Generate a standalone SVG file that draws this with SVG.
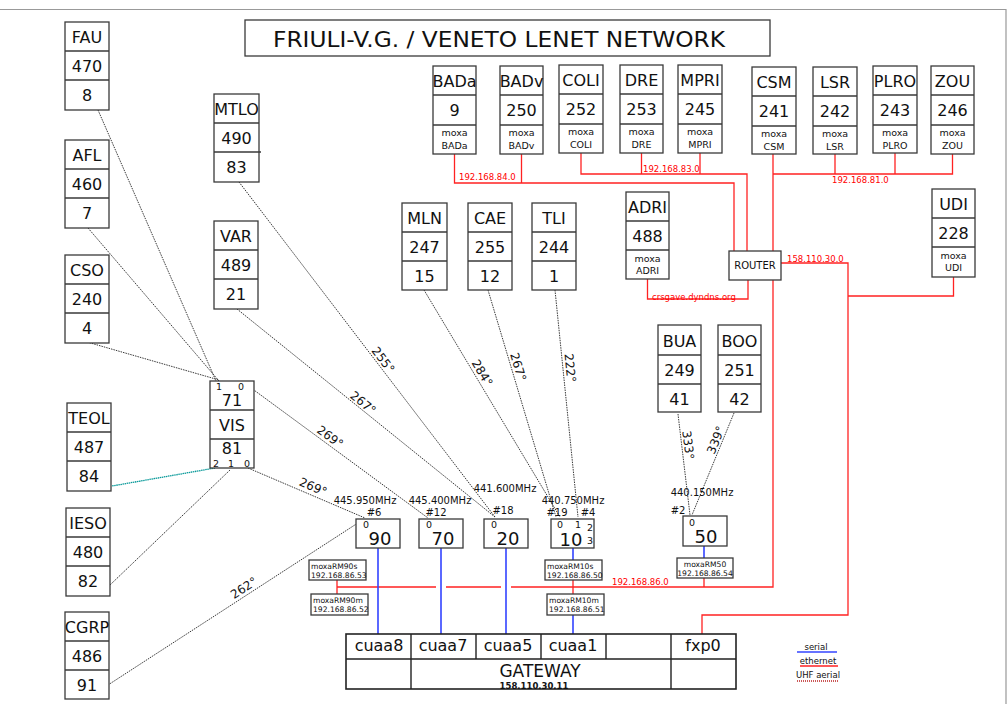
<svg xmlns="http://www.w3.org/2000/svg" width="1008" height="704" viewBox="0 0 1008 704">
<style>
.bx{fill:#fff;stroke:#3a3a3a;stroke-width:1.3}
.dv{fill:none;stroke:#3a3a3a;stroke-width:1.3}
.t{font-family:"DejaVu Sans",sans-serif;font-size:16px;text-anchor:middle;fill:#111}
.n{font-family:"DejaVu Sans",sans-serif;font-size:18px;text-anchor:middle;fill:#111}
.p{font-family:"DejaVu Sans",sans-serif;font-size:9.5px;text-anchor:middle;fill:#111}
.m{font-family:"DejaVu Sans",sans-serif;font-size:9.5px;text-anchor:middle;fill:#111}
.s{font-family:"DejaVu Sans",sans-serif;font-size:7.6px;fill:#111}
.ip{font-family:"DejaVu Sans",sans-serif;font-size:8.5px;fill:#f00}
.f{font-family:"DejaVu Sans",sans-serif;font-size:10px;text-anchor:middle;fill:#111}
.ang{font-family:"DejaVu Sans",sans-serif;font-size:12px;text-anchor:middle;fill:#111}
.lg{font-family:"DejaVu Sans",sans-serif;font-size:8.5px;text-anchor:middle;fill:#111}
.eth{fill:none;stroke:#f22;stroke-width:1.3}
.ser{fill:none;stroke:#3344ff;stroke-width:1.6}
.uhf{fill:none;stroke:#222;stroke-width:0.9;stroke-dasharray:1.5 1}
</style>
<rect width="1008" height="704" fill="#fff"/>
<path d="M0,9.5H1006V704" fill="none" stroke="#999" stroke-width="1.2"/>

<g id="title">
<rect class="bx" x="245" y="20" width="525" height="36"/>
<text x="499" y="47" font-family="DejaVu Sans, sans-serif" font-size="22" text-anchor="middle" fill="#111" textLength="452" lengthAdjust="spacingAndGlyphs">FRIULI-V.G. / VENETO LENET NETWORK</text>
</g>

<g id="connectors">
<path class="eth" d="M454.5,154V183H734V251M521.5,154V183"/>
<path class="eth" d="M581,153V174H747V251M641.5,153V174M700,153V174"/>
<path class="eth" d="M773,154V251M773,174H952.5V154M835,154V174M895,153V174"/>
<path class="eth" d="M781,263H848V615H702V634M848,296H953.5V277"/>
<path class="eth" d="M748,280V299H647.5V279"/>
<path class="eth" d="M773,280V587H511M501,587H446M436,587H337V580M337,587V594"/>
<path class="eth" d="M573,580V594M704,578V587"/>
<text class="ip" x="459" y="180">192.168.84.0</text>
<text class="ip" x="643" y="172">192.168.83.0</text>
<text class="ip" x="832" y="183">192.168.81.0</text>
<text class="ip" x="787" y="262">158.110.30.0</text>
<text class="ip" x="652" y="300">crsgave.dyndns.org</text>
<text class="ip" x="612" y="585">192.168.86.0</text>
<path class="ser" d="M378,548V634M441,548V634M506,548V634M573,548V560M573,615V634M704,546V558"/>
<path class="uhf" d="M98,110L216,381M88,228L219,381M87,342L219,380"/>
<path class="uhf" d="M239,182L495,517M237,309L495,517"/>
<path class="uhf" d="M243,382L428,518M248,468L365,518M230,470L110,585M108,685L364,519"/>
<path d="M215,468L112,486" fill="none" stroke="#0a9a9a" stroke-width="1.3" stroke-dasharray="1.5 0.6"/>
<path class="uhf" d="M424,290L560,517M488,290L556,517M555,290L578,517"/>
<path class="uhf" d="M678,414L690,515M734,413L692,515"/>
<g transform="translate(383,360) rotate(53)"><text class="ang" y="4">255°</text></g>
<g transform="translate(363,403) rotate(38.7)"><text class="ang" y="4">267°</text></g>
<g transform="translate(330,437) rotate(36)"><text class="ang" y="4">269°</text></g>
<g transform="translate(313,487) rotate(23)"><text class="ang" y="4">269°</text></g>
<g transform="translate(244,588) rotate(-33)"><text class="ang" y="4">262°</text></g>
<g transform="translate(482,373) rotate(59)"><text class="ang" y="4">284°</text></g>
<g transform="translate(518,367) rotate(73)"><text class="ang" y="4">267°</text></g>
<g transform="translate(570,368) rotate(84)"><text class="ang" y="4">222°</text></g>
<g transform="translate(688,445) rotate(83)"><text class="ang" y="4">333°</text></g>
<g transform="translate(716,440) rotate(-68)"><text class="ang" y="4">339°</text></g>
<text class="f" x="365" y="504">445.950MHz</text>
<text class="f" x="374" y="516">#6</text>
<text class="f" x="440" y="504">445.400MHz</text>
<text class="f" x="436" y="516">#12</text>
<text class="f" x="505" y="492">441.600MHz</text>
<text class="f" x="503" y="514">#18</text>
<text class="f" x="573" y="504">440.750MHz</text>
<text class="f" x="557" y="516">#19</text>
<text class="f" x="588" y="516">#4</text>
<text class="f" x="702" y="496">440.150MHz</text>
<text class="f" x="678" y="514">#2</text>
</g>

<g id="FAU"><rect class="bx" x="65" y="22" width="44" height="88"/><path class="dv" d="M65,51H109M65,80H109"/><text class="t" x="87" y="43">FAU</text><text class="t" x="87" y="72">470</text><text class="t" x="87" y="101">8</text></g>
<g id="AFL"><rect class="bx" x="65" y="140" width="44" height="88"/><path class="dv" d="M65,169H109M65,198H109"/><text class="t" x="87" y="161">AFL</text><text class="t" x="87" y="190">460</text><text class="t" x="87" y="219">7</text></g>
<g id="CSO"><rect class="bx" x="65" y="255" width="44" height="88"/><path class="dv" d="M65,284H109M65,313H109"/><text class="t" x="87" y="276">CSO</text><text class="t" x="87" y="305">240</text><text class="t" x="87" y="334">4</text></g>
<g id="MTLO"><rect class="bx" x="214" y="94" width="45" height="88"/><path class="dv" d="M214,123H259M214,152H261"/><text class="t" x="236.5" y="115">MTLO</text><text class="t" x="236.5" y="144">490</text><text class="t" x="236.5" y="173">83</text></g>
<g id="VAR"><rect class="bx" x="214" y="221" width="44" height="88"/><path class="dv" d="M214,250H258M214,279H258"/><text class="t" x="236" y="242">VAR</text><text class="t" x="236" y="271">489</text><text class="t" x="236" y="300">21</text></g>
<g id="TEOL"><rect class="bx" x="67" y="403" width="44" height="88"/><path class="dv" d="M67,432H111M67,461H111"/><text class="t" x="89" y="424">TEOL</text><text class="t" x="89" y="453">487</text><text class="t" x="89" y="482">84</text></g>
<g id="IESO"><rect class="bx" x="66" y="508" width="44" height="88"/><path class="dv" d="M66,537H110M66,566H110"/><text class="t" x="88" y="529">IESO</text><text class="t" x="88" y="558">480</text><text class="t" x="88" y="587">82</text></g>
<g id="CGRP"><rect class="bx" x="65" y="612" width="44" height="87"/><path class="dv" d="M65,641H109M65,670H109"/><text class="t" x="87" y="633">CGRP</text><text class="t" x="87" y="662">486</text><text class="t" x="87" y="691">91</text></g>
<g id="VIS"><rect class="bx" x="210" y="381" width="44" height="87"/><path class="dv" d="M210,410H254M210,439H254"/><text class="p" x="219" y="390">1</text><text class="p" x="241" y="390">0</text><text class="t" x="232" y="406">71</text><text class="t" x="232" y="431">VIS</text><text class="t" x="232" y="454">81</text><text class="p" x="216" y="467">2</text><text class="p" x="231" y="467">1</text><text class="p" x="247" y="467">0</text></g>

<g id="MLN"><rect class="bx" x="402" y="203" width="45" height="87"/><path class="dv" d="M402,232H447M402,261H447"/><text class="t" x="424.5" y="224">MLN</text><text class="t" x="424.5" y="253">247</text><text class="t" x="424.5" y="282">15</text></g>
<g id="CAE"><rect class="bx" x="468" y="203" width="44" height="87"/><path class="dv" d="M468,232H512M468,261H512"/><text class="t" x="490" y="224">CAE</text><text class="t" x="490" y="253">255</text><text class="t" x="490" y="282">12</text></g>
<g id="TLI"><rect class="bx" x="532" y="203" width="44" height="87"/><path class="dv" d="M532,232H576M532,261H576"/><text class="t" x="554" y="224">TLI</text><text class="t" x="554" y="253">244</text><text class="t" x="554" y="282">1</text></g>
<g id="BUA"><rect class="bx" x="658" y="325" width="43" height="87"/><path class="dv" d="M658,355H701M658,384H701"/><text class="t" x="679.5" y="347">BUA</text><text class="t" x="679.5" y="376">249</text><text class="t" x="679.5" y="405">41</text></g>
<g id="BOO"><rect class="bx" x="718" y="325" width="43" height="87"/><path class="dv" d="M718,355H761M718,384H761"/><text class="t" x="739.5" y="347">BOO</text><text class="t" x="739.5" y="376">251</text><text class="t" x="739.5" y="405">42</text></g>

<g id="BADa"><rect class="bx" x="433" y="66" width="43" height="88"/><path class="dv" d="M433,95H476M433,125H476"/><text class="t" x="454.5" y="87">BADa</text><text class="t" x="454.5" y="116">9</text><text class="m" x="454.5" y="136">moxa</text><text class="m" x="454.5" y="149">BADa</text></g>
<g id="BADv"><rect class="bx" x="500" y="66" width="43" height="88"/><path class="dv" d="M500,95H543M500,125H543"/><text class="t" x="521.5" y="87">BADv</text><text class="t" x="521.5" y="116">250</text><text class="m" x="521.5" y="136">moxa</text><text class="m" x="521.5" y="149">BADv</text></g>
<g id="COLI"><rect class="bx" x="559" y="65" width="44" height="88"/><path class="dv" d="M559,94H603M559,124H603"/><text class="t" x="581" y="86">COLI</text><text class="t" x="581" y="115">252</text><text class="m" x="581" y="135">moxa</text><text class="m" x="581" y="148">COLI</text></g>
<g id="DRE"><rect class="bx" x="620" y="65" width="43" height="88"/><path class="dv" d="M620,94H663M620,124H663"/><text class="t" x="641.5" y="86">DRE</text><text class="t" x="641.5" y="115">253</text><text class="m" x="641.5" y="135">moxa</text><text class="m" x="641.5" y="148">DRE</text></g>
<g id="MPRI"><rect class="bx" x="678" y="65" width="44" height="88"/><path class="dv" d="M678,94H722M678,124H722"/><text class="t" x="700" y="86">MPRI</text><text class="t" x="700" y="115">245</text><text class="m" x="700" y="135">moxa</text><text class="m" x="700" y="148">MPRI</text></g>
<g id="CSM"><rect class="bx" x="752" y="67" width="44" height="87"/><path class="dv" d="M752,96H796M752,126H796"/><text class="t" x="774" y="88">CSM</text><text class="t" x="774" y="117">241</text><text class="m" x="774" y="137">moxa</text><text class="m" x="774" y="150">CSM</text></g>
<g id="LSR"><rect class="bx" x="813" y="67" width="44" height="87"/><path class="dv" d="M813,96H857M813,126H857"/><text class="t" x="835" y="88">LSR</text><text class="t" x="835" y="117">242</text><text class="m" x="835" y="137">moxa</text><text class="m" x="835" y="150">LSR</text></g>
<g id="PLRO"><rect class="bx" x="873" y="66" width="44" height="87"/><path class="dv" d="M873,95H917M873,125H917"/><text class="t" x="895" y="87">PLRO</text><text class="t" x="895" y="116">243</text><text class="m" x="895" y="136">moxa</text><text class="m" x="895" y="149">PLRO</text></g>
<g id="ZOU"><rect class="bx" x="931" y="66" width="43" height="88"/><path class="dv" d="M931,95H974M931,125H974"/><text class="t" x="952.5" y="87">ZOU</text><text class="t" x="952.5" y="116">246</text><text class="m" x="952.5" y="136">moxa</text><text class="m" x="952.5" y="149">ZOU</text></g>
<g id="ADRI"><rect class="bx" x="626" y="192" width="43" height="87"/><path class="dv" d="M626,221H669M626,250H669"/><text class="t" x="647.5" y="213">ADRI</text><text class="t" x="647.5" y="242">488</text><text class="m" x="647.5" y="262">moxa</text><text class="m" x="647.5" y="274">ADRI</text></g>
<g id="UDI"><rect class="bx" x="932" y="189" width="43" height="88"/><path class="dv" d="M932,218H975M932,247H975"/><text class="t" x="953.5" y="210">UDI</text><text class="t" x="953.5" y="239">228</text><text class="m" x="953.5" y="259">moxa</text><text class="m" x="953.5" y="271">UDI</text></g>
<g id="ROUTER"><rect class="bx" x="729" y="251" width="52" height="29"/><text class="f" x="755" y="269">ROUTER</text></g>

<g id="R90"><rect class="bx" x="356" y="519" width="44" height="29"/><text class="p" x="366" y="528">0</text><text class="n" x="380" y="545">90</text></g>
<g id="R70"><rect class="bx" x="419" y="519" width="44" height="29"/><text class="p" x="429" y="528">0</text><text class="n" x="443" y="545">70</text></g>
<g id="R20"><rect class="bx" x="484" y="519" width="44" height="29"/><text class="p" x="494" y="528">0</text><text class="n" x="508" y="545">20</text></g>
<g id="R10"><rect class="bx" x="551" y="519" width="43" height="29"/><text class="p" x="560" y="528">0</text><text class="p" x="578" y="528">1</text><text class="p" x="590" y="531">2</text><text class="p" x="590" y="544">3</text><text class="n" x="571" y="546">10</text></g>
<g id="R50"><rect class="bx" x="683" y="516" width="44" height="30"/><text class="p" x="692" y="526">0</text><text class="n" x="706" y="543">50</text></g>

<g id="moxaRM90s"><rect class="bx" x="309" y="560" width="57" height="20"/><text class="s" x="311" y="569">moxaRM90s</text><text class="s" x="311" y="577.5">192.168.86.53</text></g>
<g id="moxaRM90m"><rect class="bx" x="311" y="594" width="57" height="21"/><text class="s" x="313" y="603">moxaRM90m</text><text class="s" x="313" y="612">192.168.86.52</text></g>
<g id="moxaRM10s"><rect class="bx" x="545" y="560" width="57" height="20"/><text class="s" x="547" y="569">moxaRM10s</text><text class="s" x="547" y="577.5">192.168.86.50</text></g>
<g id="moxaRM10m"><rect class="bx" x="547" y="594" width="57" height="21"/><text class="s" x="549" y="603">moxaRM10m</text><text class="s" x="549" y="612">192.168.86.51</text></g>
<g id="moxaRM50"><rect class="bx" x="677" y="558" width="56" height="20"/><text class="s" x="705" y="567" text-anchor="middle">moxaRM50</text><text class="s" x="705" y="575.5" text-anchor="middle">192.168.86.54</text></g>

<g id="GATEWAY"><rect x="346" y="634" width="390" height="55" fill="#fff" stroke="#222" stroke-width="1.6"/><path d="M346,659H736M411,634V689M476,634V659M541,634V659M606,634V659M671,634V689" fill="none" stroke="#222" stroke-width="1.4"/>
<text class="t" x="379" y="651">cuaa8</text><text class="t" x="443" y="651">cuaa7</text><text class="t" x="508" y="651">cuaa5</text><text class="t" x="573" y="651">cuaa1</text><text class="t" x="703" y="651">fxp0</text>
<text x="540" y="677" font-family="DejaVu Sans, sans-serif" font-size="17" text-anchor="middle" fill="#111">GATEWAY</text>
<text x="534" y="689" font-family="DejaVu Sans, sans-serif" font-size="8.5" font-weight="bold" text-anchor="middle" fill="#111">158.110.30.11</text></g>

<g id="legend">
<text class="lg" x="816" y="650">serial</text><path d="M797,652H837" stroke="#3344ff" stroke-width="1.5"/>
<text class="lg" x="818" y="664">ethernet</text><path d="M800,666H838" stroke="#f22" stroke-width="1.3"/>
<text class="lg" x="818" y="678">UHF aerial</text><path d="M797,681H839" stroke="#b22" stroke-width="1.5" stroke-dasharray="1 1"/>
</g>
</svg>
